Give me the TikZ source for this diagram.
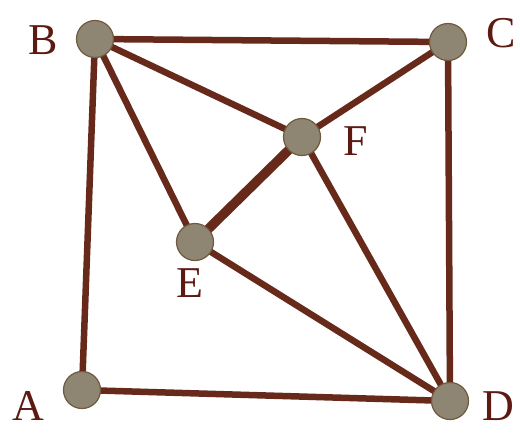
\documentclass[tikz,border=0pt]{standalone}
\usepackage{fontspec}
\setmainfont{Liberation Serif}
\usepackage{xcolor}
\usepackage{tikz}
\usetikzlibrary{positioning,backgrounds}
\definecolor{edgebrown}{HTML}{66291A}
\definecolor{dotfill}{HTML}{8E8672}
\definecolor{dotrim}{HTML}{6E5A3E}
\definecolor{labelred}{HTML}{5C1A12}

\begin{document}
\begin{tikzpicture}[
    x=1pt, y=-1pt,
    vertex/.style={circle, draw=dotrim, line width=1.2pt, fill=dotfill, minimum size=37pt, inner sep=0pt},
    tag/.style={text=labelred, font=\fontsize{44}{44}\selectfont, inner sep=0pt},
    edge/.style={draw=edgebrown, line width=6.5pt},
    thickedge/.style={draw=edgebrown, line width=9.5pt}
  ]
    \useasboundingbox (0,0) rectangle (520,432);
    \node[vertex] (B) at (95,39) {};
    \node[vertex] (C) at (448,42) {};
    \node[vertex] (F) at (302,137) {};
    \node[vertex] (E) at (195,242) {};
    \node[vertex] (A) at (82,390) {};
    \node[vertex] (D) at (450,401) {};
    \node[tag] (lB) at (43,40) {B};
    \node[tag] (lC) at (501,33) {C};
    \node[tag] (lF) at (356,141) {F};
    \node[tag] (lE) at (190,283) {E};
    \node[tag] (lA) at (28,406) {A};
    \node[tag] (lD) at (498,406) {D};
    % edges go behind the dots
    \begin{scope}[on background layer]
    \path[edge] (B.center) -- (C.center);
    \path[edge] (B.center) -- (A.center);
    \path[edge] (A.center) -- (D.center);
    \path[edge] (C.center) -- (D.center);
    \path[edge] (B.center) -- (F.center);
    \path[edge] (B.center) -- (E.center);
    \path[edge] (C.center) -- (F.center);
    \path[thickedge] (E.center) -- (F.center);
    \path[edge] (E.center) -- (D.center);
    \path[edge] (F.center) -- (D.center);
    \end{scope}
  \end{tikzpicture}
\end{document}
